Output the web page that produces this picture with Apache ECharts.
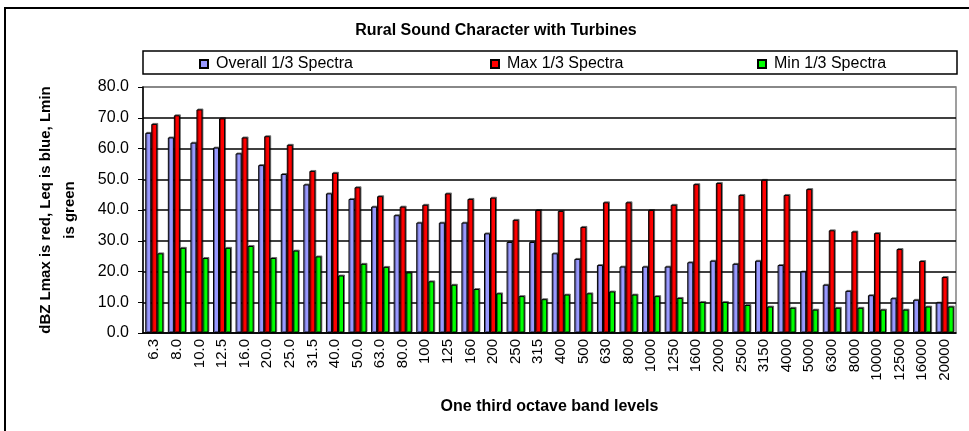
<!DOCTYPE html>
<html>
<head>
<meta charset="utf-8">
<script src="https://cdn.jsdelivr.net/npm/echarts@6/dist/echarts.min.js"></script>
<style>
  html, body { margin: 0; padding: 0; background: #fff; }
  #chart { width: 969px; height: 431px; }
</style>
</head>
<body>
<div id="chart"></div>
<script>
// one third octave band centre frequencies
var bands = ['6.3', '8.0', '10.0', '12.5', '16.0', '20.0', '25.0', '31.5', '40.0', '50.0',
  '63.0', '80.0', '100', '125', '160', '200', '250', '315', '400', '500',
  '630', '800', '1000', '1250', '1600', '2000', '2500', '3150', '4000', '5000',
  '6300', '8000', '10000', '12500', '16000', '20000']

var overallSpectra = [65.1, 63.6, 61.9, 60.3, 58.4, 54.6, 51.7, 48.3, 45.4, 43.6,
  41.1, 38.3, 35.9, 35.9, 35.9, 32.4, 29.6, 29.6, 25.9, 24.1,
  22.1, 21.6, 21.6, 21.6, 23.0, 23.5, 22.5, 23.5, 22.1, 20.0,
  15.7, 13.7, 12.3, 11.3, 10.8, 9.9]

var maxSpectra = [68.0, 70.8, 72.7, 69.8, 63.6, 64.0, 61.2, 52.7, 52.1, 47.4,
  44.5, 41.1, 41.7, 45.4, 43.6, 44.0, 36.8, 40.0, 39.7, 34.5,
  42.5, 42.5, 40.0, 41.7, 48.4, 48.8, 44.9, 49.8, 44.9, 46.8,
  33.4, 33.0, 32.5, 27.3, 23.4, 18.2]

var minSpectra = [25.9, 27.7, 24.4, 27.7, 28.3, 24.4, 26.8, 24.9, 18.7, 22.5,
  21.5, 19.7, 16.8, 15.7, 14.3, 12.9, 12.0, 11.0, 12.5, 12.9,
  13.5, 12.5, 12.0, 11.4, 10.1, 10.1, 9.1, 8.6, 8.2, 7.6,
  8.2, 8.2, 7.6, 7.6, 8.6, 8.6]

var seriesNames = ['Overall 1/3 Spectra', 'Max 1/3 Spectra', 'Min 1/3 Spectra']
var seriesColors = ['#9999FF', '#FF0000', '#00FF00']

var font = 'Arial, "Liberation Sans", sans-serif'

function barSeries(name, data, color) {
  return {
    name: name,
    type: 'bar',
    data: data,
    barGap: 0,
    barCategoryGap: '20%',
    itemStyle: {
      color: color,
      borderColor: '#000',
      borderWidth: 1,
      shadowColor: 'rgba(0,0,0,0.45)',
      shadowOffsetX: 1,
      shadowOffsetY: -1,
      shadowBlur: 0
    },
    emphasis: { disabled: true }
  }
}

function legendAt(name, left) {
  return {
    data: [name],
    left: left,
    top: 56,
    padding: 0,
    icon: 'rect',
    itemWidth: 8,
    itemHeight: 8,
    itemGap: 0,
    selectedMode: false,
    textStyle: { fontFamily: font, fontSize: 16, color: '#000', padding: [0, 0, 0, 3] }
  }
}

var chart = echarts.init(document.getElementById('chart'))
chart.setOption({
  animation: false,
  title: {
    text: 'Rural Sound Character with Turbines',
    left: 496,
    top: 23,
    padding: 0,
    textAlign: 'center',
    textStyle: { fontFamily: font, fontSize: 16, fontWeight: 'bold', color: '#000' }
  },
  legend: [
    legendAt(seriesNames[0], 199),
    legendAt(seriesNames[1], 490),
    legendAt(seriesNames[2], 757)
  ],
  graphic: [
    {
      type: 'rect',
      shape: { x: 5, y: 8, width: 1100, height: 600 },
      style: { fill: 'none', stroke: '#000', lineWidth: 2 },
      silent: true
    },
    {
      type: 'rect',
      shape: { x: 143, y: 51, width: 814, height: 23 },
      style: { fill: 'none', stroke: '#000', lineWidth: 1.5 },
      silent: true
    }
  ],
  grid: {
    left: 143,
    right: 13,
    top: 87,
    bottom: 98,
    show: true,
    borderColor: '#808080',
    borderWidth: 1.5,
    containLabel: false
  },
  xAxis: {
    type: 'category',
    data: bands,
    name: 'One third octave band levels',
    nameLocation: 'middle',
    nameGap: 66,
    nameTextStyle: { fontFamily: font, fontSize: 16, fontWeight: 'bold', color: '#000' },
    axisLine: { lineStyle: { color: '#000', width: 1.5 } },
    axisTick: { length: 5, lineStyle: { color: '#000' } },
    axisLabel: {
      rotate: 90,
      interval: 0,
      margin: 6,
      fontFamily: font,
      fontSize: 15,
      color: '#000'
    }
  },
  yAxis: {
    type: 'value',
    min: 0,
    max: 80,
    interval: 10,
    name: 'dBZ Lmax is red, Leq is blue, Lmin\nis green',
    nameLocation: 'middle',
    nameRotate: 90,
    nameGap: 61,
    nameTextStyle: { fontFamily: font, fontSize: 15, fontWeight: 'bold', color: '#000', lineHeight: 24 },
    axisLine: { show: true, lineStyle: { color: '#000', width: 1.5 } },
    axisTick: { show: true, length: 5, lineStyle: { color: '#000' } },
    axisLabel: {
      margin: 14,
      fontFamily: font,
      fontSize: 16,
      color: '#000',
      formatter: function (v) { return v.toFixed(1) }
    },
    splitLine: {
      lineStyle: {
        color: ['#000', '#000', '#000', '#000', '#000', '#000', '#000', '#000', '#808080'],
        width: 1.5
      }
    }
  },
  series: [
    barSeries(seriesNames[0], overallSpectra, seriesColors[0]),
    barSeries(seriesNames[1], maxSpectra, seriesColors[1]),
    barSeries(seriesNames[2], minSpectra, seriesColors[2])
  ]
})
</script>
</body>
</html>
